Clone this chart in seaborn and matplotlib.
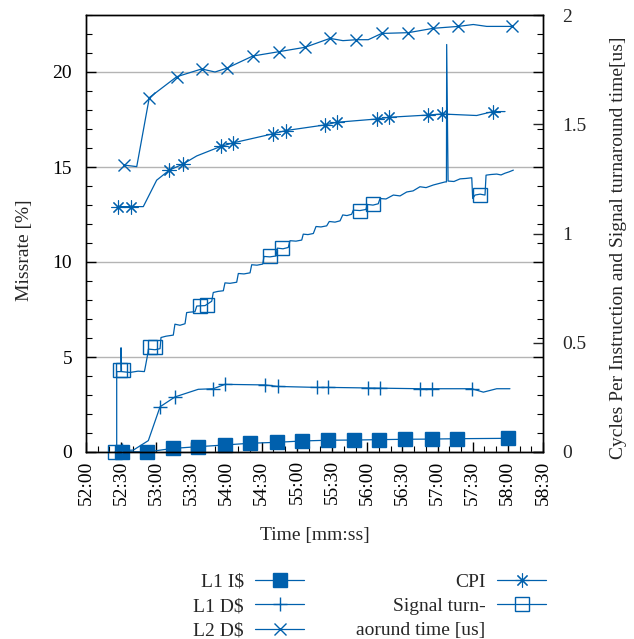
import numpy as np
import pandas as pd
import seaborn as sns
import matplotlib.pyplot as plt
import matplotlib.ticker as ticker
from matplotlib.lines import Line2D

# times are seconds after 52:00
T0 = 52 * 60

# L1 I$ missrate [%]
l1i_t = [30.5, 51.8, 74.2, 95.6, 118.6, 140.0, 162.9, 184.3, 206.7, 228.8, 250.1, 272.3, 295.1, 316.5, 360.4]
l1i_v = [0.02, 0.0, 0.19, 0.28, 0.37, 0.46, 0.51, 0.58, 0.62, 0.63, 0.65, 0.67, 0.68, 0.70, 0.72]

# L1 D$ missrate [%]
l1d_t = [30.5, 40.4, 53.2, 63.2, 76.0, 95.8, 108.6, 118.6, 152.8, 163.6, 196.9, 206.8,
         240.9, 250.9, 285.0, 295.0, 329.2, 339.1, 350.5, 361.8]
l1d_v = [0.08, 0.1, 0.6, 2.38, 2.9, 3.3, 3.33, 3.56, 3.53, 3.45, 3.4, 3.4,
         3.37, 3.36, 3.33, 3.33, 3.33, 3.15, 3.33, 3.33]
l1d_marks = [0, 3, 4, 6, 7, 8, 9, 10, 11, 12, 13, 14, 15, 16]

# L2 D$ missrate [%]
l2d_t = [32.7, 43.3, 54.0, 77.4, 98.7, 110.1, 120.1, 142.3, 164.7, 186.9, 208.2, 219.3,
         230.7, 240.9, 252.3, 275.0, 296.4, 317.7, 330.5, 342.0, 363.3]
l2d_v = [15.1, 15.02, 18.65, 19.75, 20.16, 20.0, 20.2, 20.84, 21.07, 21.3, 21.77, 21.65,
         21.7, 21.7, 22.03, 22.07, 22.3, 22.4, 22.5, 22.4, 22.4]
l2d_marks = [0, 2, 3, 4, 6, 7, 8, 9, 10, 12, 14, 15, 16, 17, 20]

# CPI
cpi_t = [27.1, 38.1, 48.9, 60.3, 71.1, 82.5, 94.5, 115.2, 125.7, 159.3, 170.4, 204.0,
         213.9, 248.1, 258.8, 291.6, 303.5, 333.4, 347.1, 357.6]
cpi_v = [1.123, 1.123, 1.123, 1.244, 1.29, 1.317, 1.355, 1.399, 1.415, 1.456, 1.471, 1.497,
         1.509, 1.524, 1.532, 1.542, 1.547, 1.54, 1.558, 1.558]
cpi_marks = [0, 1, 4, 5, 7, 8, 9, 10, 11, 12, 13, 14, 15, 16, 18]

# Signal turnaround time [us]
sig_t = [24.7, 26.2, 26.2, 29.9, 29.9, 30.3, 37.5, 44.4, 49.8, 50.3, 52.7, 53.2, 58.9, 63.2,
         64.0, 68.3, 74.5, 75.9, 80.2, 84.5, 85.9, 88.7, 93.0, 94.5, 101.6, 107.3, 108.6,
         112.6, 117.2, 118.6, 122.9, 128.6, 130.0, 134.8, 140.0, 141.4, 145.9, 150.8, 151.9,
         157.0, 162.1, 163.3, 168.1, 172.6, 174.1, 179.2, 184.1, 185.4, 189.4, 194.0, 196.3,
         200.5, 205.4, 207.6, 212.5, 216.8, 219.1, 222.7, 226.7, 228.1, 233.8, 238.9, 240.0,
         244.9, 249.4, 250.9, 256.0, 262.3, 268.0, 273.7, 279.1, 285.0, 290.2, 296.4, 302.1,
         306.4, 307.6, 307.8, 309.0, 314.0, 319.2, 324.3, 329.2, 330.0, 332.0, 336.3, 340.5,
         341.4, 345.6, 350.5, 354.2, 357.6, 361.0, 364.7]
sig_v = [0.0, 0.0, 0.368, 0.368, 0.477, 0.368, 0.364, 0.37, 0.368, 0.38, 0.449, 0.471, 0.468,
         0.473, 0.524, 0.53, 0.535, 0.585, 0.58, 0.587, 0.638, 0.64, 0.642, 0.668, 0.67, 0.69,
         0.73, 0.735, 0.738, 0.774, 0.772, 0.777, 0.817, 0.815, 0.82, 0.857, 0.855, 0.86,
         0.895, 0.893, 0.897, 0.933, 0.93, 0.936, 0.967, 0.965, 0.97, 0.997, 0.995, 1.0,
         1.032, 1.03, 1.035, 1.055, 1.052, 1.058, 1.085, 1.082, 1.088, 1.107, 1.105, 1.11,
         1.133, 1.13, 1.136, 1.16, 1.158, 1.176, 1.172, 1.19, 1.195, 1.214, 1.21, 1.222,
         1.23, 1.236, 1.236, 1.865, 1.24, 1.238, 1.25, 1.252, 1.255, 1.16, 1.176, 1.18, 1.176,
         1.267, 1.27, 1.272, 1.268, 1.276, 1.282, 1.29]
# open squares on the signal curve
sigm_t = [24.7, 28.8, 31.3, 54.6, 58.9, 97.3, 103.3, 157.0, 167.0, 233.8, 244.7, 336.0]
sigm_v = [0.0, 0.373, 0.373, 0.479, 0.479, 0.668, 0.673, 0.895, 0.934, 1.105, 1.133, 1.177]

sns.set_theme(style="ticks")
plt.rcParams['font.family'] = ['Liberation Serif', 'DejaVu Serif']

blue = '#0060ad'
fs = 14

fig = plt.figure(figsize=(6.34, 6.39), dpi=100)
ax = fig.add_axes([86 / 634, 1 - 452 / 639, 457 / 634, 437 / 639])
ax2 = ax.twinx()

line_kw = dict(color=blue, linewidth=0.9, sort=False, estimator=None, legend=False, clip_on=False)

sns.lineplot(x=np.array(l1i_t) + T0, y=l1i_v, ax=ax, marker='s', ms=10.5, mec=blue, mfc=blue,
             mew=1, **line_kw)
sns.lineplot(x=np.array(l1d_t) + T0, y=l1d_v, ax=ax, marker='+', ms=10, mec=blue, mew=1,
             markevery=l1d_marks, **line_kw)
sns.lineplot(x=np.array(l2d_t) + T0, y=l2d_v, ax=ax, marker='x', ms=9, mec=blue, mew=1,
             markevery=l2d_marks, **line_kw)
sns.lineplot(x=np.array(cpi_t) + T0, y=cpi_v, ax=ax2, marker=(8, 2, 0), ms=10, mec=blue,
             mew=0.8, markevery=cpi_marks, **line_kw)
sns.lineplot(x=np.array(sig_t) + T0, y=sig_v, ax=ax2, **line_kw)
ax2.plot(np.array(sigm_t) + T0, sigm_v, ls='none', marker='s', ms=9.5, mfc='none', mec=blue,
         mew=1, clip_on=False)

# axes ranges and ticks
ax.set_xlim(T0, T0 + 390)
ax.set_ylim(0, 23)
ax2.set_ylim(0, 2)
ax.xaxis.set_major_locator(ticker.MultipleLocator(30))
ax.xaxis.set_minor_locator(ticker.MultipleLocator(10))
ax.xaxis.set_major_formatter(ticker.FuncFormatter(lambda v, p: f"{int(v // 60):02d}:{int(round(v % 60)):02d}"))
ax.yaxis.set_major_locator(ticker.MultipleLocator(5))
ax.yaxis.set_minor_locator(ticker.MultipleLocator(1))
ax2.yaxis.set_major_locator(ticker.MultipleLocator(0.5))
ax2.yaxis.set_major_formatter(ticker.FuncFormatter(lambda v, p: f"{v:g}"))

ax.tick_params(axis='both', which='both', direction='in', colors='black', labelsize=fs)
ax.tick_params(axis='y', which='both', right=True)
ax.tick_params(which='major', length=7, width=1, pad=10)
ax.tick_params(which='minor', length=4, width=0.8)
ax.tick_params(axis='x', which='major', pad=6, labelrotation=90)
ax2.tick_params(axis='y', direction='in', length=7, width=1, labelsize=fs, pad=14)

ax.grid(axis='y', which='major', color='#b4b4b4', linewidth=1)
ax.set_axisbelow(True)
for a in (ax, ax2):
    for s in a.spines.values():
        s.set_color('black')
        s.set_linewidth(1)

ax.set_xlabel('Time [mm:ss]', fontsize=fs, labelpad=16)
ax.set_ylabel('Missrate [%]', fontsize=fs)
ax2.set_ylabel('Cycles Per Instruction and Signal turnaround time[us]', fontsize=fs)
ax.yaxis.set_label_coords(-53 / 457, (452 - 250) / 437)
ax2.yaxis.set_label_coords(1 + 67 / 457, (452 - 248) / 437)

# legend in gnuplot layout: labels right aligned, sample after the text
handles = [
    Line2D([], [], color=blue, lw=0.9, marker='s', ms=10.5, mfc=blue, mec=blue),
    Line2D([], [], color=blue, lw=0.9, marker='+', ms=10, mec=blue, mew=1),
    Line2D([], [], color=blue, lw=0.9, marker='x', ms=9, mec=blue, mew=1),
    Line2D([], [], color=blue, lw=0.9, marker=(8, 2, 0), ms=10, mec=blue, mew=0.8),
    Line2D([], [], color=blue, lw=0.9, marker='s', ms=9.5, mfc='none', mec=blue, mew=1),
    Line2D([], [], color='none', lw=0),
]
labels = ['L1 I$', 'L1 D$', 'L2 D$', 'CPI', 'Signal turn-', 'aorund time [us]']
fig.legend(handles, labels, loc='upper right', bbox_to_anchor=(546 / 634, 1 - 573 / 639),
           ncol=2, frameon=False, markerfirst=False, fontsize=fs, handlelength=2.5,
           handletextpad=0.6, columnspacing=2.7, labelspacing=0.35, borderpad=0,
           borderaxespad=0, numpoints=1)

fig.savefig('out.png', dpi=100)
